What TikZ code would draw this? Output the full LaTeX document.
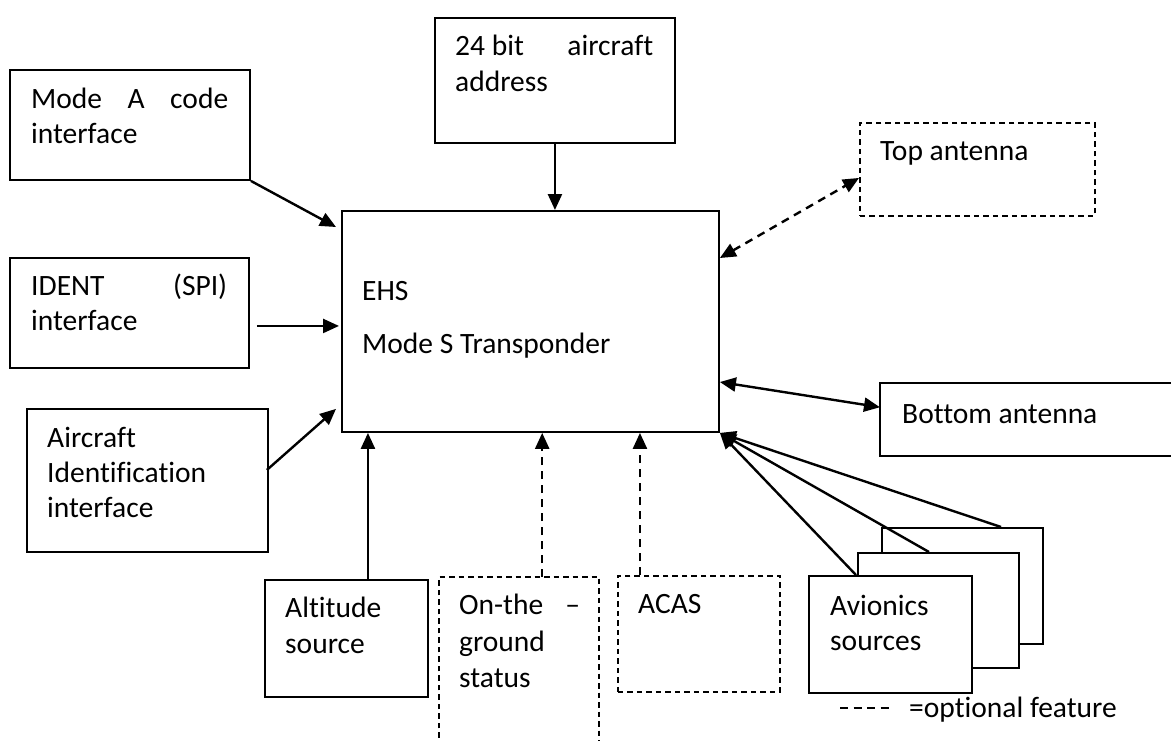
\documentclass[tikz,border=0pt]{standalone}
\usepackage{fontspec}
\setmainfont{Carlito}[Ligatures=NoCommon]
\usetikzlibrary{arrows.meta}
\begin{document}
\begin{tikzpicture}[x=1pt,y=-1pt,
  box/.style={draw,line width=1.9pt,rectangle,inner sep=0pt,anchor=north west,fill=white},
  optbox/.style={box,dash pattern=on 5.5pt off 4pt},
  frame/.style={rectangle,inner sep=0pt,anchor=north west},
  lbl/.style={anchor=base west,inner sep=0pt,font=\fontsize{29.5}{35}\selectfont},
  arr/.style={line width=2.4pt,-{Triangle[length=16pt,width=14pt]}},
  darr/.style={arr,dash pattern=on 8pt off 6pt},
  biarr/.style={line width=2.4pt,{Triangle[length=16pt,width=14pt]}-{Triangle[length=16pt,width=14pt]}},
  dbiarr/.style={biarr,dash pattern=on 8pt off 6pt},
]
\useasboundingbox (0,0) rectangle (1171,740);

% boxes
\node[box,minimum width=240pt,minimum height=110pt] (modea) at (9,69) {};
\node[box,minimum width=239pt,minimum height=110pt] (ident) at (9,257) {};
\node[box,minimum width=241pt,minimum height=143pt] (acid) at (26,408) {};
\node[box,minimum width=240pt,minimum height=125pt] (addr) at (434,17) {};
\node[box,minimum width=377pt,minimum height=221pt] (ehs) at (341,210) {};
\node[optbox,minimum width=235pt,minimum height=93pt] (top) at (859,122) {};
\node[frame,minimum width=295pt,minimum height=73pt] (bot) at (880,383) {};
\draw[line width=1.9pt] (bot.north east) -- (bot.north west) -- (bot.south west) -- (bot.south east);
\node[box,minimum width=163pt,minimum height=117pt] (alt) at (264,579) {};
\node[frame,minimum width=160pt,minimum height=170pt] (ground) at (439,577) {};
\draw[line width=1.9pt,dash pattern=on 5.5pt off 4pt] (ground.south west) -- (ground.north west) -- (ground.north east) -- (ground.south east);
\node[optbox,minimum width=162pt,minimum height=116pt] (acas) at (617,575) {};
\node[box,minimum width=161pt,minimum height=116pt] (av3) at (881,527) {};
\node[box,minimum width=161pt,minimum height=115pt] (av2) at (857,552) {};
\node[box,minimum width=163pt,minimum height=117pt] (av1) at (808,575) {};

% texts
\node[lbl] (t1a) at (31,108) {\makebox[197pt][l]{Mode\hfill A\hfill code}};
\node[lbl] (t1b) at (31,143) {interface};
\node[lbl] (t2a) at (31,295) {\makebox[196pt][l]{IDENT\hfill(SPI)}};
\node[lbl] (t2b) at (31,330) {interface};
\node[lbl] (t3a) at (47,447) {Aircraft};
\node[lbl] (t3b) at (47,482) {Identification};
\node[lbl] (t3c) at (47,517) {interface};
\node[lbl] (t4a) at (455,55) {\makebox[198pt][l]{24 bit\hfill aircraft}};
\node[lbl] (t4b) at (455,91) {address};
\node[lbl] (t5a) at (362,300) {EHS};
\node[lbl] (t5b) at (362,353) {Mode S Transponder};
\node[lbl] (t6) at (880,160) {Top antenna};
\node[lbl] (t7) at (902,423) {Bottom antenna};
\node[lbl] (t8a) at (285,617) {Altitude};
\node[lbl] (t8b) at (285,653) {source};
\node[lbl] (t9a) at (459,614) {\makebox[121pt][l]{On-the\hfill –}};
\node[lbl] (t9b) at (459,651) {ground};
\node[lbl] (t9c) at (459,687) {status};
\node[lbl] (t10) at (638,613) {ACAS};
\node[lbl] (t11a) at (830,615) {Avionics};
\node[lbl] (t11b) at (830,650) {sources};

% legend
\coordinate (lg1) at (840,708);
\coordinate (lg2) at (891,708);
\draw[line width=1.6pt,dash pattern=on 8pt off 5.5pt] (lg1) -- (lg2);
\node[lbl] (legend) at (909,717) {=optional feature};

% connectors
\draw[arr] (modea.south east) -- ([shift={(-5,17)}]ehs.north west);
\draw[arr] ([shift={(7,13)}]ident.east) -- ([shift={(-2,4.5)}]ehs.west);
\draw[arr] ([shift={(-2,-10.5)}]acid.east) -- ([shift={(-5,-24)}]ehs.south west);
\draw[arr] (addr.south) -- (addr.south |- ehs.north);
\draw[arr] ([shift={(21.5,0)}]alt.north) -- ([shift={(21.5,0)}]alt.north |- ehs.south);
\draw[darr] ([shift={(23,0)}]ground.north) -- ([shift={(23,0)}]ground.north |- ehs.south);
\draw[darr] ([shift={(-59,0)}]acas.north) -- ([shift={(-59,0)}]acas.north |- ehs.south);
\draw[dbiarr] ([shift={(0,48)}]ehs.north east) -- ([shift={(0,8.5)}]top.west);
\draw[biarr] ([shift={(0,172)}]ehs.north east) -- ([shift={(0,-12.5)}]bot.west);
\draw[arr] ([shift={(48,0)}]av1.north west) -- (ehs.south east);
\draw[arr] ([shift={(72,0)}]av2.north west) -- (ehs.south east);
\draw[arr] ([shift={(120,0)}]av3.north west) -- (ehs.south east);
\end{tikzpicture}
\end{document}
